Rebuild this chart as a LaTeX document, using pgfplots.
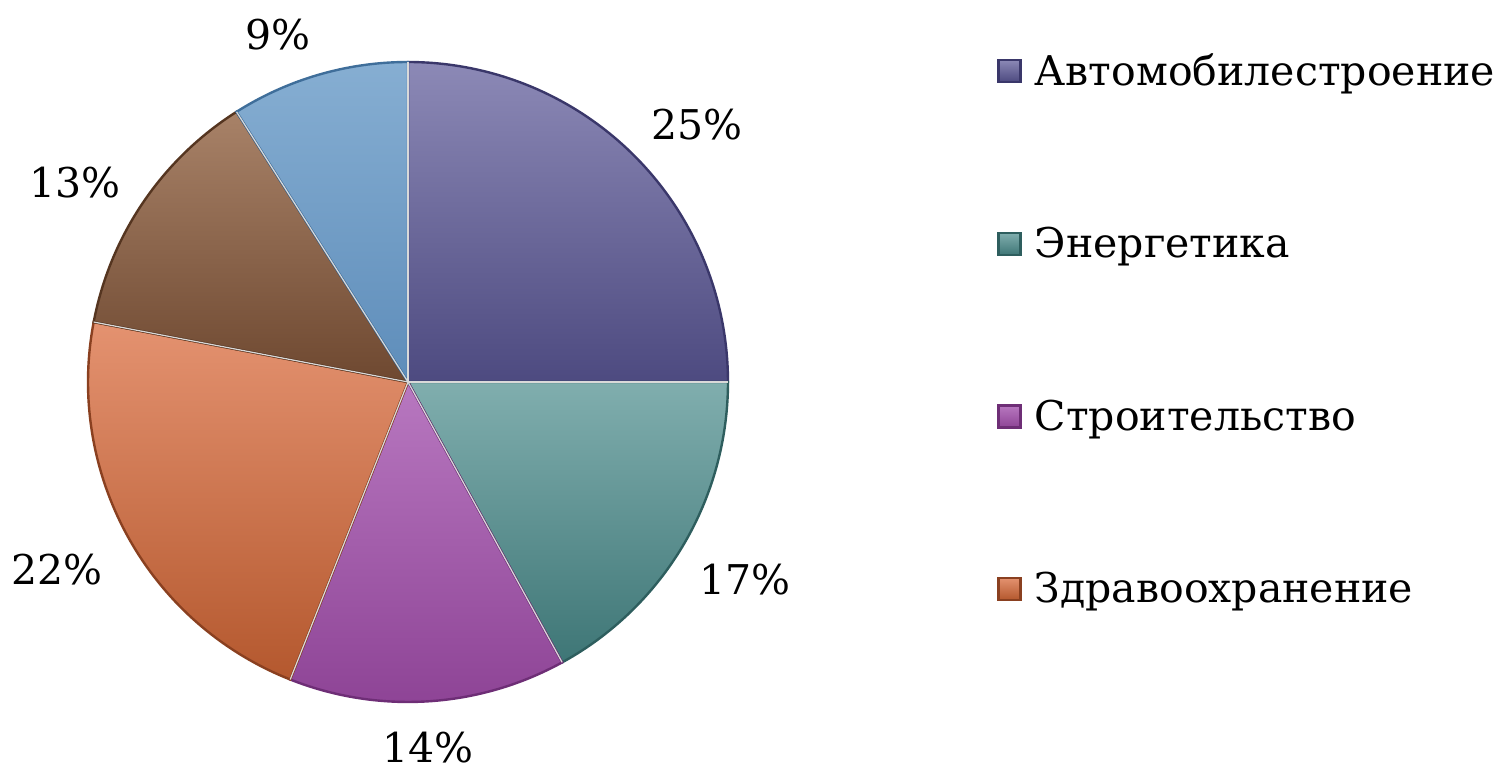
\documentclass[border=0pt]{standalone}
\usepackage{pgfplots}
\pgfplotsset{compat=1.18}
\usepackage{fontspec}
\setmainfont{DejaVu Serif}
\definecolor{aT}{HTML}{8C89B6}\definecolor{aB}{HTML}{4D4A80}\definecolor{aE}{HTML}{3A376A}
\definecolor{bT}{HTML}{80AEAE}\definecolor{bB}{HTML}{3E7676}\definecolor{bE}{HTML}{2E5E5E}
\definecolor{cT}{HTML}{B878C0}\definecolor{cB}{HTML}{8E4496}\definecolor{cE}{HTML}{6E2E76}
\definecolor{dT}{HTML}{E49270}\definecolor{dB}{HTML}{B4582E}\definecolor{dE}{HTML}{8A4020}
\definecolor{eT}{HTML}{A88268}\definecolor{eB}{HTML}{6E4830}\definecolor{eE}{HTML}{553520}
\definecolor{fT}{HTML}{86AED2}\definecolor{fB}{HTML}{5E8DBA}\definecolor{fE}{HTML}{3F6E9A}
% data (percent)
\def\pA{25}\def\pB{17}\def\pC{14}\def\pD{22}\def\pE{13}\def\pF{9}
\pgfmathsetmacro\angA{90}
\pgfmathsetmacro\angB{\angA-3.6*\pA}
\pgfmathsetmacro\angC{\angB-3.6*\pB}
\pgfmathsetmacro\angD{\angC-3.6*\pC}
\pgfmathsetmacro\angE{\angD-3.6*\pD}
\pgfmathsetmacro\angF{\angE-3.6*\pE}
\pgfmathsetmacro\angG{\angF-3.6*\pF}
\def\cx{408}\def\cy{392}\def\R{320}
\newcommand\lf{\fontsize{20.5}{24}\selectfont}
\begin{document}
\begin{tikzpicture}
\begin{axis}[
  scale only axis, width=750.5pt, height=387pt,
  xmin=0, xmax=1501, ymin=0, ymax=774,
  hide axis, clip=false,
  legend cell align=left,
  legend image code/.code={\draw[#1, line width=1.2pt] (0pt,-5.5pt) rectangle (11pt,5.5pt);},
  legend style={at={(axis cs:997,725)}, anchor=north west, draw=none, fill=none,
    inner sep=0pt, row sep=65.5pt, font=\lf,
    nodes={inner xsep=3pt, inner ysep=2pt},
    cells={anchor=west}},
]
\addplot[top color=aT, bottom color=aB, draw=aE, line width=1.2pt, domain=\angB:\angA, samples=80, variable=\t]
  ({\cx+\R*cos(\t)},{\cy+\R*sin(\t)}) -- (axis cs:\cx,\cy) -- cycle;
\addlegendentry{\hspace{3.5pt}Автомобилестроение}
\addplot[top color=bT, bottom color=bB, draw=bE, line width=1.2pt, domain=\angC:\angB, samples=60, variable=\t]
  ({\cx+\R*cos(\t)},{\cy+\R*sin(\t)}) -- (axis cs:\cx,\cy) -- cycle;
\addlegendentry{\hspace{3.5pt}Энергетика}
\addplot[top color=cT, bottom color=cB, draw=cE, line width=1.2pt, domain=\angD:\angC, samples=60, variable=\t]
  ({\cx+\R*cos(\t)},{\cy+\R*sin(\t)}) -- (axis cs:\cx,\cy) -- cycle;
\addlegendentry{\hspace{3.5pt}Строительство}
\addplot[top color=dT, bottom color=dB, draw=dE, line width=1.2pt, domain=\angE:\angD, samples=70, variable=\t]
  ({\cx+\R*cos(\t)},{\cy+\R*sin(\t)}) -- (axis cs:\cx,\cy) -- cycle;
\addlegendentry{\hspace{3.5pt}Здравоохранение}
\addplot[forget plot, top color=eT, bottom color=eB, draw=eE, line width=1.2pt, domain=\angF:\angE, samples=60, variable=\t]
  ({\cx+\R*cos(\t)},{\cy+\R*sin(\t)}) -- (axis cs:\cx,\cy) -- cycle;
\addplot[forget plot, top color=fT, bottom color=fB, draw=fE, line width=1.2pt, domain=\angG:\angF, samples=50, variable=\t]
  ({\cx+\R*cos(\t)},{\cy+\R*sin(\t)}) -- (axis cs:\cx,\cy) -- cycle;
% thin light separators
\pgfplotsinvokeforeach{\angA,\angB,\angC,\angD,\angE,\angF}{
  \draw[white!85!black, line width=0.6pt] (axis cs:\cx,\cy) -- (axis cs:{\cx+\R*cos(#1)},{\cy+\R*sin(#1)});
}
% labels
\node[font=\lf] at (axis cs:697,649) {\pA\%};
\node[font=\lf] at (axis cs:745,194) {\pB\%};
\node[font=\lf] at (axis cs:428,26) {\pC\%};
\node[font=\lf] at (axis cs:57,204) {\pD\%};
\node[font=\lf] at (axis cs:75,591) {\pE\%};
\node[font=\lf] at (axis cs:278,739) {\pF\%};
\draw[draw=none] (rel axis cs:0,0) rectangle (rel axis cs:1,1);
\end{axis}
\end{tikzpicture}
\end{document}
